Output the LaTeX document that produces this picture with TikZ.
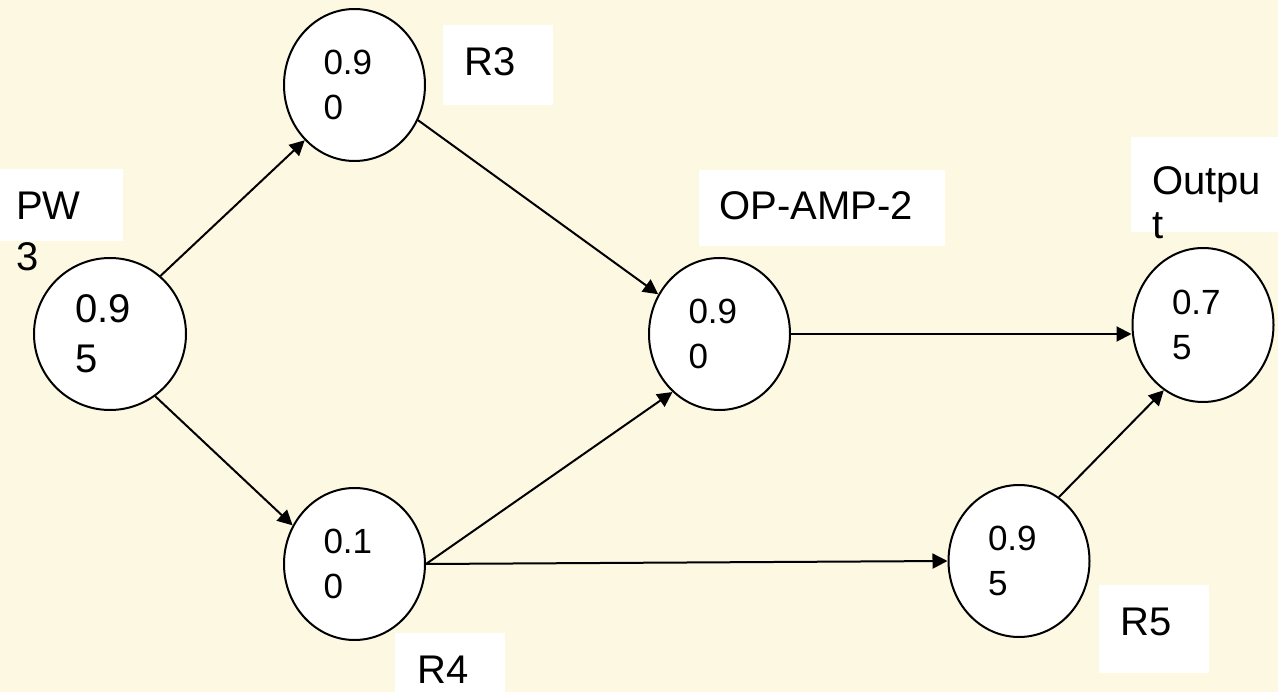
\documentclass[tikz,border=0pt]{standalone}
\usepackage{fontspec}
\setmainfont{Liberation Sans}
\usetikzlibrary{shapes.geometric,arrows.meta}
\definecolor{bgcream}{RGB}{253,248,226}
\begin{document}
\begin{tikzpicture}[x=1pt,y=-1pt,
  prob/.style={ellipse, draw=black, line width=2pt, fill=white, inner sep=0pt,
    minimum width=141pt, minimum height=152pt, align=left, text width=62pt,
    font=\fontsize{35}{45}\selectfont},
  conn/.style={line width=2pt, -{Triangle[length=15pt,width=15pt]}},
  lbl/.style={anchor=base west, align=left, inner sep=0pt,
    font=\fontsize{40}{51}\selectfont},
  lblbox/.style={fill=white}]
\fill[bgcream] (0,0) rectangle (1278,692);
\useasboundingbox (0,0) rectangle (1278,692);
% label boxes
\fill[lblbox] (0,169) rectangle (123,241);
\fill[lblbox] (443,25) rectangle (553,105);
\fill[lblbox] (699,170) rectangle (945,246);
\fill[lblbox] (1131,137) rectangle (1278,232);
\fill[lblbox] (1099,585) rectangle (1209,673);
\fill[lblbox] (395,633) rectangle (505,692);
% labels
\node[lbl] (lpw) at (16,271) {PW\\3};
\node[lbl] (lr3) at (464,76) {R3};
\node[lbl] (lop) at (719,220) {OP-AMP-2};
\node[lbl, font=\fontsize{40}{44}\selectfont] (lout) at (1152,239) {Outpu\\t};
\node[lbl] (lr5) at (1120,635) {R5};
\node[lbl] (lr4) at (417,683) {R4};
% probability nodes
\node[prob, minimum width=152pt, minimum height=152pt, text width=70pt, font=\fontsize{40}{50}\selectfont] (pw) at (110,334) {0.9\\5};
\node[prob] (r3) at (354.5,85) {0.9\\0};
\node[prob] (op) at (719.5,334) {0.9\\0};
\node[prob, minimum height=154pt] (out) at (1203,325) {0.7\\5};
\node[prob] (r5) at (1019,561) {0.9\\5};
\node[prob] (r4) at (354.5,564) {0.1\\0};
% connectors
\draw[conn] (pw.49) -- (r3.228);
\draw[conn] (pw.-54) -- (r4.148);
\draw[conn] (r3.-29) -- (op.147);
\draw[conn] (r4.east) -- (op.231);
\draw[conn] (r4.east) -- (r5.west);
\draw[conn] (op.east) -- (out.west |- op.east);
\draw[conn] (r5.58) -- (out.239);
\end{tikzpicture}
\end{document}
